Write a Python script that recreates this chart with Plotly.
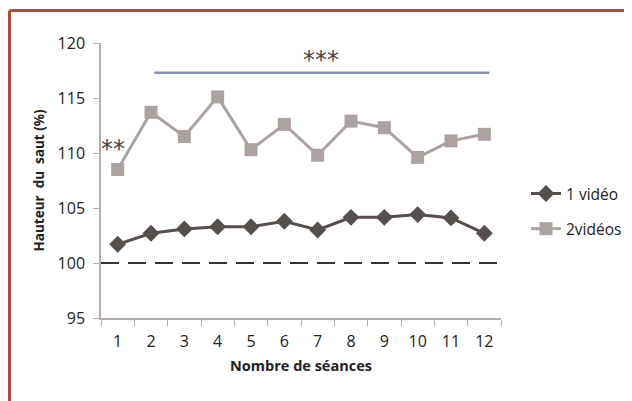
import plotly.graph_objects as go

sessions = [str(i) for i in range(1, 13)]
one_video = [101.7, 102.7, 103.1, 103.3, 103.3, 103.8, 103.0, 104.15, 104.15, 104.4, 104.1, 102.7]
two_videos = [108.5, 113.7, 111.5, 115.1, 110.3, 112.6, 109.8, 112.9, 112.3, 109.6, 111.1, 111.7]
baseline = 100
sig_level = 117.3
sig_span = [1.1, 11.15]  # category index positions (session 2 -> 12)
y_ticks = [95, 100, 105, 110, 115, 120]

fig = go.Figure()
fig.add_trace(go.Scatter(
    x=sessions, y=one_video, name="1 vidéo", mode="lines+markers", legendgroup="a",
    line=dict(color="#574e4e", width=3),
    marker=dict(symbol="diamond", size=13, color="#574e4e"),
))
fig.add_trace(go.Scatter(
    x=sessions, y=two_videos, name="2vidéos", mode="lines+markers", legendgroup="b",
    line=dict(color="#aca2a1", width=3),
    marker=dict(symbol="square", size=13, color="#aca2a1"),
))

fig.add_shape(type="line", xref="paper", yref="y", x0=0, x1=0.99, y0=baseline, y1=baseline,
              line=dict(color="#333333", width=2, dash="18px,9px"))
fig.add_shape(type="line", xref="x", yref="y", x0=sig_span[0], x1=sig_span[1], y0=sig_level, y1=sig_level,
              line=dict(color="#8890b4", width=2.5))
fig.add_annotation(x=6.1, y=sig_level, xref="x", yref="y", text="***", showarrow=False,
                   yanchor="bottom", yshift=-3, font=dict(size=24, color="#444", family="DejaVu Sans"))
fig.add_annotation(x=-0.13, y=108.9, xref="x", yref="y", text="**", showarrow=False,
                   yanchor="bottom", font=dict(size=24, color="#444", family="DejaVu Sans"))

# frame
fig.add_shape(type="line", xref="paper", yref="paper", x0=-0.22875, x1=1.4, y0=1.1182, y1=1.1182,
              line=dict(color="#a94f40", width=3))
fig.add_shape(type="line", xref="paper", yref="paper", x0=-0.22875, x1=-0.22875, y0=1.1182, y1=-0.35,
              line=dict(color="#a94f40", width=3))

fig.update_layout(
    width=624, height=393,
    margin=dict(l=93, r=131, t=35, b=83, autoexpand=False),
    paper_bgcolor="white", plot_bgcolor="white",
    font=dict(family="Open Sans", size=15, color="#222"),
    showlegend=True,
    legend=dict(x=1.0625, y=0.513, xanchor="left", yanchor="top", bgcolor="rgba(0,0,0,0)",
                font=dict(size=15.5, color="#222"), tracegroupgap=12),
    xaxis=dict(
        type="category", range=[-0.5, 11.5], tickson="boundaries",
        showline=True, linecolor="#b5adad", linewidth=1.5,
        ticks="outside", ticklen=6, tickcolor="#b5adad",
        showgrid=False, zeroline=False,
        tickfont=dict(size=16), ticklabelstandoff=8,
        title=dict(text="<b>Nombre de séances</b>", font=dict(size=14.5), standoff=10),
    ),
    yaxis=dict(
        range=[95, 120], tickvals=y_ticks,
        showline=True, linecolor="#b5adad", linewidth=1.5,
        ticks="outside", ticklen=6, tickcolor="#b5adad",
        showgrid=False, zeroline=False,
        tickfont=dict(size=16), ticklabelstandoff=5,
        title=dict(text="<b>Hauteur  du  saut (%)</b>", font=dict(size=13.5), standoff=10),
    ),
)

fig.write_html("out.html")
